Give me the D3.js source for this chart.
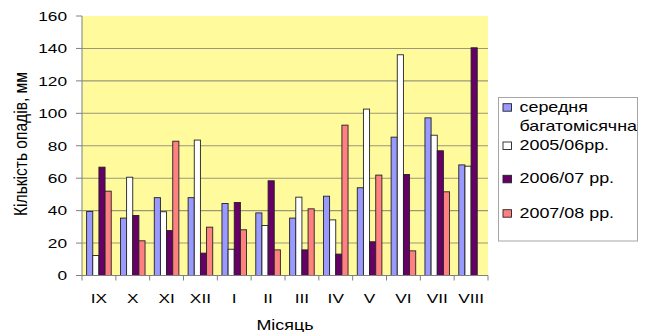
<!DOCTYPE html>
<html>
<head>
<meta charset="utf-8">
<script src="https://cdn.jsdelivr.net/npm/d3@7/dist/d3.min.js"></script>
<style>
  html, body { margin: 0; padding: 0; background: #fff; }
  svg { display: block; }
  text { font-family: "Liberation Sans", Arial, sans-serif; fill: #000; }
</style>
</head>
<body>
<svg id="chart" width="647" height="332"></svg>
<script>
const categories = ["IX","X","XI","XII","I","II","III","IV","V","VI","VII","VIII"];
const seriesNames = ["середня багатомісячна", "2005/06рр.", "2006/07 рр.", "2007/08 рр."];
const avgValues   = [39.5, 35.4, 48.0, 48.0, 44.4, 38.6, 35.4, 48.9, 54.1, 85.3, 97.2, 68.2];
const y0506Values = [12.3, 60.6, 39.3, 83.5, 16.2, 30.8, 48.3, 34.3, 102.6, 136.1, 86.5, 67.4];
const y0607Values = [66.8, 37.0, 27.7, 13.8, 45.0, 58.4, 15.8, 13.2, 20.8, 62.3, 76.9, 140.4];
const y0708Values = [52.0, 21.4, 82.8, 29.8, 28.2, 15.8, 41.1, 92.7, 61.9, 15.2, 51.6, null];
const yTicks = [0, 20, 40, 60, 80, 100, 120, 140, 160];
const seriesColors = ["#9999FF", "#FFFFFF", "#660066", "#FF8080"];

const allSeries = [avgValues, y0506Values, y0607Values, y0708Values];
const svg = d3.select("#chart");
const plot = {left: 82, right: 488, top: 16, bottom: 275.5};
const SX = 1.28; // horizontal glyph stretch of the reference

const x0 = d3.scaleBand().domain(categories).range([plot.left, plot.right]).padding(0);
const x1 = d3.scaleBand().domain(d3.range(4)).range([0, x0.bandwidth()]).paddingInner(0).paddingOuter(0.75);
const y = d3.scaleLinear().domain([0, 160]).range([plot.bottom, plot.top]);

// plot background
svg.append("rect").attr("x", plot.left).attr("y", plot.top)
  .attr("width", plot.right - plot.left).attr("height", plot.bottom - plot.top)
  .attr("fill", "#FFFB9C");

// gridlines
svg.append("g").selectAll("line").data(yTicks.filter(t => t > 0 && t < 160)).join("line")
  .attr("x1", plot.left).attr("x2", plot.right)
  .attr("y1", d => y(d)).attr("y2", d => y(d))
  .attr("stroke", "#9a9878").attr("stroke-width", 1.1);

// bars
const data = [];
categories.forEach((c, i) => allSeries.forEach((s, k) => {
  if (s[i] != null) data.push({c, k, v: s[i]});
}));
svg.append("g").selectAll("rect").data(data).join("rect")
  .attr("x", d => x0(d.c) + x1(d.k))
  .attr("y", d => y(d.v))
  .attr("width", x1.bandwidth())
  .attr("height", d => y(0) - y(d.v))
  .attr("fill", d => seriesColors[d.k])
  .attr("stroke", "#222").attr("stroke-width", 0.9);

// y axis
const ya = svg.append("g");
ya.append("line").attr("x1", plot.left).attr("x2", plot.left)
  .attr("y1", plot.top).attr("y2", plot.bottom).attr("stroke", "#808080");
ya.selectAll("line.t").data(yTicks).join("line").attr("class", "t")
  .attr("x1", plot.left - 6).attr("x2", plot.left)
  .attr("y1", d => y(d)).attr("y2", d => y(d)).attr("stroke", "#808080");
ya.selectAll("g.l").data(yTicks).join("g").attr("class", "l")
  .attr("transform", d => `translate(67,${y(d) + 4.8}) scale(${SX},1)`)
  .append("text").attr("text-anchor", "end").style("font-size", "13.5px").text(d => d);

// x axis
const xa = svg.append("g");
xa.append("line").attr("x1", plot.left).attr("x2", plot.right)
  .attr("y1", plot.bottom).attr("y2", plot.bottom).attr("stroke", "#808080");
const bounds = categories.map(c => x0(c)).concat([plot.right]);
xa.selectAll("line.t").data(bounds).join("line").attr("class", "t")
  .attr("x1", d => d).attr("x2", d => d)
  .attr("y1", plot.bottom).attr("y2", plot.bottom + 5).attr("stroke", "#808080");
xa.selectAll("g.l").data(categories).join("g").attr("class", "l")
  .attr("transform", d => `translate(${x0(d) + x0.bandwidth() / 2},303.3) scale(${SX},1)`)
  .append("text").attr("text-anchor", "middle").style("font-size", "13.5px").text(d => d);

// axis titles
svg.append("g").attr("transform", `translate(285,330) scale(${SX},1)`)
  .append("text").attr("text-anchor", "middle").style("font-size", "14px").text("Місяць");
svg.append("g").attr("transform", `translate(27,144) scale(${SX},1) rotate(-90)`)
  .append("text").attr("text-anchor", "middle").style("font-size", "14px")
  .attr("textLength", 144).attr("lengthAdjust", "spacingAndGlyphs")
  .text("Кількість опадів, мм");

// legend
const lg = svg.append("g");
lg.append("rect").attr("x", 498.5).attr("y", 97.5).attr("width", 139).attr("height", 143.5)
  .attr("fill", "#fff").attr("stroke", "#a6a6a6");
const legendItems = [
  {k: 0, lines: ["середня", "багатомісячна"], base: [111.7, 130.7]},
  {k: 1, lines: ["2005/06рр."], base: [150]},
  {k: 2, lines: ["2006/07 рр."], base: [183.3]},
  {k: 3, lines: ["2007/08 рр."], base: [217.7]}
];
legendItems.forEach(it => {
  lg.append("rect").attr("x", 503).attr("y", it.base[0] - 8).attr("width", 8.5).attr("height", 7.5)
    .attr("fill", seriesColors[it.k]).attr("stroke", "#222").attr("stroke-width", 0.9);
  it.lines.forEach((t, j) => {
    lg.append("g").attr("transform", `translate(519.5,${it.base[j]}) scale(${SX},1)`)
      .append("text").style("font-size", "14px").text(t);
  });
});
</script>
</body>
</html>
